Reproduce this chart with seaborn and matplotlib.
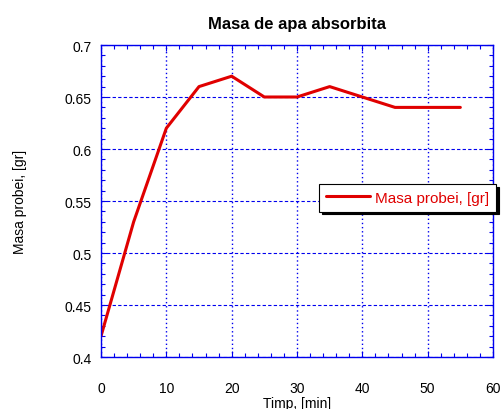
import matplotlib
matplotlib.use("Agg")
import matplotlib.pyplot as plt
import seaborn as sns
import pandas as pd
from matplotlib.ticker import MultipleLocator

timp = [0, 5, 10, 15, 20, 25, 30, 35, 40, 45, 50, 55]
masa = [0.42, 0.53, 0.62, 0.66, 0.67, 0.65, 0.65, 0.66, 0.65, 0.64, 0.64, 0.64]
serie = "Masa probei, [gr]"

df = pd.DataFrame({"Timp": timp, "Masa": masa})

sns.set_style("white")
plt.rcParams['font.family'] = ['Liberation Sans', 'DejaVu Sans']
plt.rcParams['text.color'] = 'black'
plt.rcParams['axes.labelcolor'] = 'black'

fig = plt.figure(figsize=(5.02, 4.10), dpi=100)
ax = fig.add_axes([101/502, 1-358/410, 392/502, 312/410])

sns.lineplot(data=df, x="Timp", y="Masa", ax=ax, color="#e00000", linewidth=2.2, label=serie)

ax.set_xlim(0, 60)
ax.set_ylim(0.4, 0.7)
ax.xaxis.set_major_locator(MultipleLocator(10))
ax.xaxis.set_minor_locator(MultipleLocator(2))
ax.yaxis.set_major_locator(MultipleLocator(0.05))
ax.yaxis.set_minor_locator(MultipleLocator(0.01))
ax.set_yticks([0.4, 0.45, 0.5, 0.55, 0.6, 0.65, 0.7])
ax.set_yticklabels(["0.4", "0.45", "0.5", "0.55", "0.6", "0.65", "0.7"])

blue = "#0000ee"
ax.grid(False)
ax.xaxis.grid(True, which="major", color=blue, linestyle=(0, (1, 2)), linewidth=1)
ax.yaxis.grid(True, which="major", color=blue, linestyle=(0, (3, 2)), linewidth=0.8)
for s in ax.spines.values():
    s.set_color(blue)
    s.set_linewidth(1)
ax.tick_params(which="both", direction="in", top=True, right=True, bottom=True, left=True,
               color=blue, labelsize=10, labelcolor="black", width=0.8)
ax.tick_params(which="major", length=4)
ax.tick_params(which="minor", length=3)
ax.tick_params(axis="x", which="major", pad=17)
ax.tick_params(axis="y", which="major", pad=7)

ax.set_title("Masa de apa absorbita", fontsize=12, fontweight="bold", pad=12, color="black")
ax.set_xlabel("Timp, [min]", fontsize=10, labelpad=1, color="black")
ax.set_ylabel("Masa probei, [gr]", fontsize=10, labelpad=27, color="black")

leg = ax.legend(loc="upper left", bbox_to_anchor=(0.556, 0.555), frameon=True, fancybox=False,
                shadow={'color': 'black', 'alpha': 1}, fontsize=11, handlelength=2.9,
                borderpad=0.45, handletextpad=0.35, borderaxespad=0)
leg.get_frame().set_edgecolor("black")
leg.get_frame().set_linewidth(0.8)
for t in leg.get_texts():
    t.set_color("#e00000")

fig.savefig("out.png", dpi=100)
